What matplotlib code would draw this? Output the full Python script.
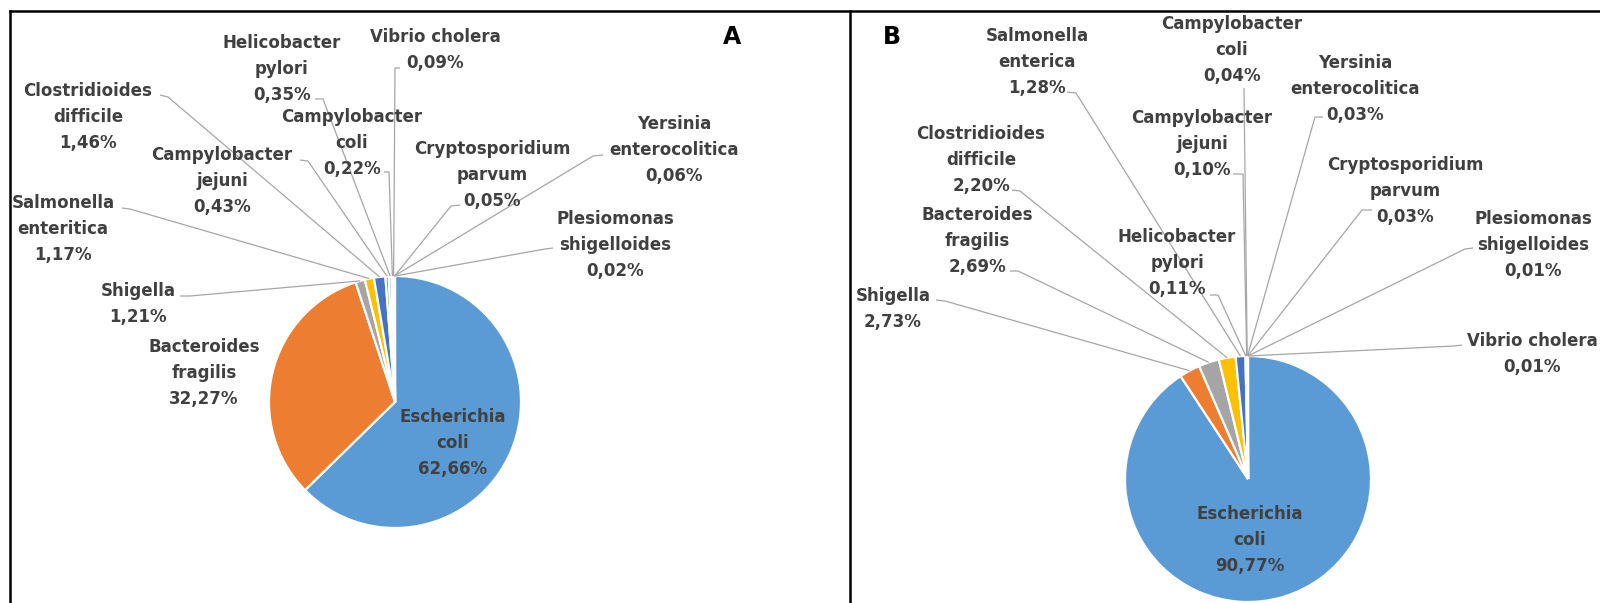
import matplotlib
matplotlib.use("Agg")
import matplotlib.pyplot as plt
import numpy as np

W, H = 1600, 603

# Panel A data
names_a = ["Escherichia\ncoli", "Bacteroides\nfragilis", "Shigella", "Salmonella\nenteritica",
           "Clostridioides\ndifficile", "Campylobacter\njejuni", "Helicobacter\npylori",
           "Campylobacter\ncoli", "Vibrio cholera", "Yersinia\nenterocolitica",
           "Cryptosporidium\nparvum", "Plesiomonas\nshigelloides"]
vals_a = [62.66, 32.27, 1.21, 1.17, 1.46, 0.43, 0.35, 0.22, 0.09, 0.06, 0.05, 0.02]

# Panel B data
names_b = ["Escherichia\ncoli", "Shigella", "Bacteroides\nfragilis", "Clostridioides\ndifficile",
           "Salmonella\nenterica", "Helicobacter\npylori", "Campylobacter\njejuni",
           "Campylobacter\ncoli", "Yersinia\nenterocolitica", "Cryptosporidium\nparvum",
           "Plesiomonas\nshigelloides", "Vibrio cholera"]
vals_b = [90.77, 2.73, 2.69, 2.20, 1.28, 0.11, 0.10, 0.04, 0.03, 0.03, 0.01, 0.01]

colors = ['#5B9BD5', '#ED7D31', '#A5A5A5', '#FFC000', '#4472C4', '#70AD47',
          '#255E91', '#9E480E', '#636363', '#997300', '#264478', '#43682B']

# layout (pixel coords, y from top): pie centre/radius, label centre, leader anchor + elbow
pie_a = (395, 402, 126)
pie_b = (1248, 479, 123)
lab_a = [(453, 443), (204, 373), (138, 304), (63, 229), (88, 117), (222, 181),
         (282, 69), (352, 143), (435, 50), (674, 150), (492, 175), (615, 245)]
lead_a = [None, None, ((180, 296), (190, 296)), ((122, 208), (130, 209)),
          ((160, 95), (168, 97)), ((300, 160), (308, 161)), ((315, 99), (323, 99)),
          ((384, 172), (389, 172)), ((400, 68), (395, 68)), ((603, 155), (593, 156)),
          ((460, 205), (451, 206)), ((553, 248), (545, 249))]
lab_b = [(1250, 540), (893, 309), (977, 241), (981, 160), (1037, 62), (1177, 263),
         (1202, 144), (1232, 50), (1355, 89), (1405, 191), (1533, 245), (1532, 354)]
lead_b = [None, ((936, 300), (945, 301)), ((1010, 271), (1018, 271)),
          ((1012, 190), (1020, 191)), ((1067, 92), (1076, 93)), ((1210, 295), (1218, 295)),
          ((1233, 174), (1243, 174)), ((1244, 88), (1244, 88)), ((1323, 117), (1315, 117)),
          ((1372, 210), (1362, 210)), ((1473, 248), (1465, 249)), ((1462, 345), (1454, 346))]

TXT = '#404040'
LEAD = '#A6A6A6'


def Y(p):
    return H - p


fig = plt.figure(figsize=(16, 6.03), dpi=100)
ax = fig.add_axes([0, 0, 1, 1])


def draw_panel(vals, names, pie, labs, leads):
    cx, cy, r = pie
    wedges, _ = ax.pie(vals, colors=colors[:len(vals)], startangle=90, counterclock=False,
                       center=(cx, Y(cy)), radius=r,
                       wedgeprops=dict(edgecolor='white', linewidth=1.6))
    for w, name, v, (lx, ly), ld in zip(wedges, names, vals, labs, leads):
        txt = name + "\n" + f"{v:.2f}".replace('.', ',') + "%"
        ax.text(lx, Y(ly), txt, ha='center', va='center', fontsize=12, fontweight='bold',
                color=TXT, linespacing=1.58, zorder=5)
        if ld is None:
            continue
        mid = np.deg2rad((w.theta1 + w.theta2) / 2)
        ex, ey = cx + r * np.cos(mid), Y(cy) + r * np.sin(mid)
        (ax0, ay0), (bx, by) = ld
        ax.plot([ax0, bx, ex], [Y(ay0), Y(by), ey], color=LEAD, lw=0.9, zorder=1,
                solid_capstyle='butt')


draw_panel(vals_a, names_a, pie_a, lab_a, lead_a)
draw_panel(vals_b, names_b, pie_b, lab_b, lead_b)

# panel letters
ax.text(732, Y(37), "A", ha='center', va='center', fontsize=17, fontweight='bold', color='black')
ax.text(892, Y(37), "B", ha='center', va='center', fontsize=17, fontweight='bold', color='black')

# panel frames
ax.plot([10, W], [Y(11), Y(11)], color='black', lw=1.8)
ax.plot([10, 10], [Y(11), 0], color='black', lw=1.8)
ax.plot([850, 850], [Y(11), 0], color='black', lw=1.8)

ax.set_xlim(0, W)
ax.set_ylim(0, H)
ax.set_aspect('auto')
ax.axis('off')

fig.savefig("out.png", dpi=100)
